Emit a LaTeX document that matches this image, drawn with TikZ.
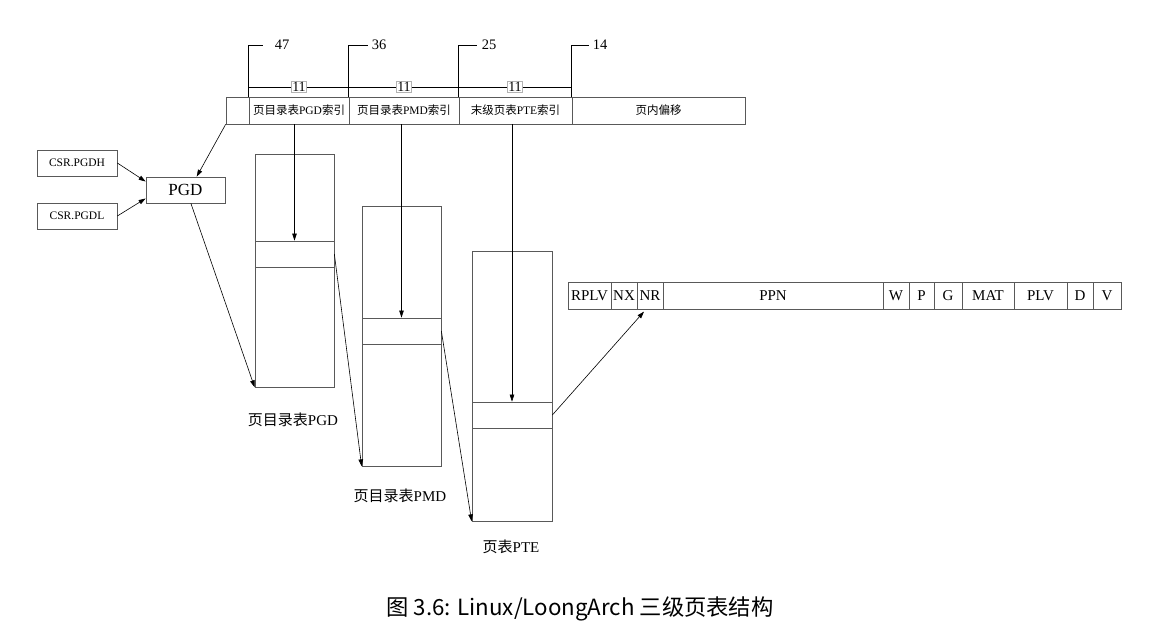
\documentclass[tikz,border=0pt]{standalone}
\usepackage{fontspec}
\setmainfont{Liberation Serif}
\newfontfamily\cjk{Noto Sans CJK SC}
\usetikzlibrary{arrows.meta,calc}
\begin{document}
\begin{tikzpicture}[x=1pt,y=-1pt,
  line/.style={draw=black!65, line width=0.7pt},
  box/.style={line, inner sep=0pt, minimum height=27pt, font=\fontsize{11.5}{12}\selectfont},
  fld/.style={line, inner sep=0pt, minimum height=27pt, font=\fontsize{15}{16}\selectfont},
  tab/.style={line, inner sep=0pt},
  arr/.style={-{Triangle[length=7pt,width=4.5pt]}, line width=0.6pt, black},
  lbl/.style={font=\fontsize{15}{16}\selectfont, inner sep=0pt},
  num/.style={font=\fontsize{14.5}{15}\selectfont, inner sep=0pt},
  wid/.style={draw=black!30, line width=0.5pt, fill=white, inner sep=0.8pt, font=\fontsize{14}{14}\selectfont},
  ]
\useasboundingbox (0,0) rectangle (1159,639);

% ---- virtual address bar
\node[box, minimum width=23pt]  (b0)   at (237.5,110.5) {};
\node[box, minimum width=100pt] (pgdi) at (299,110.5) {{\cjk 页目录表}PGD{\cjk 索引}};
\node[box, minimum width=110pt] (pmdi) at (404,110.5) {{\cjk 页目录表}PMD{\cjk 索引}};
\node[box, minimum width=113pt] (ptei) at (515.5,110.5) {{\cjk 末级页表}PTE{\cjk 索引}};
\node[box, minimum width=173pt] (off)  at (658.5,110.5) {{\cjk 页内偏移}};

% ---- bit positions
\coordinate (t47) at (263,45);
\coordinate (t36) at (368,45);
\coordinate (t25) at (477,45);
\coordinate (t14) at (589,45);
\draw[line, black] (pgdi.north west) |- (t47);
\draw[line, black] (pmdi.north west) |- (t36);
\draw[line, black] (ptei.north west) |- (t25);
\draw[line, black] (off.north west)  |- (t14);
\node[num] (n47) at (282,45) {47};
\node[num] (n36) at (379,45) {36};
\node[num] (n25) at (489,45) {25};
\node[num] (n14) at (600,45) {14};

% ---- widths
\coordinate (h1) at (249,87);
\coordinate (h2) at (572,87);
\draw[line, black] (h1) -- (h2);
\node[wid] (w1) at (299,87) {11};
\node[wid] (w2) at (404,87) {11};
\node[wid] (w3) at (515,87) {11};

% ---- CSR and PGD
\node[box, minimum width=80pt, minimum height=26pt] (csrh) at (77,163) {CSR.PGDH};
\node[box, minimum width=80pt, minimum height=26pt] (csrl) at (77,216) {CSR.PGDL};
\node[box, minimum width=79pt, minimum height=26pt, font=\fontsize{17}{18}\selectfont] (pgd) at (185.5,190) {PGD};

% ---- tables
\node[tab, minimum width=79pt, minimum height=233pt] (pgdt) at (294.5,270.5) {};
\node[tab, minimum width=79pt, minimum height=26pt]  (pgde) at (294.5,254) {};
\node[tab, minimum width=79pt, minimum height=260pt] (pmdt) at (401.5,336) {};
\node[tab, minimum width=79pt, minimum height=26pt]  (pmde) at (401.5,331) {};
\node[tab, minimum width=80pt, minimum height=270pt] (ptet) at (512,386) {};
\node[tab, minimum width=80pt, minimum height=26pt]  (ptee) at (512,415) {};

\node[lbl] (lpgd) at (293,420) {{\cjk 页目录表}PGD};
\node[lbl] (lpmd) at (400,496) {{\cjk 页目录表}PMD};
\node[lbl] (lpte) at (511,547) {{\cjk 页表}PTE};

% ---- PTE entry format
\node[fld, minimum width=43pt]  (rplv) at (589.5,295.5) {RPLV};
\node[fld, minimum width=26pt]  (nx)   at (624,295.5)   {NX};
\node[fld, minimum width=26pt]  (nr)   at (650,295.5)   {NR};
\node[fld, minimum width=220pt] (ppn)  at (773,295.5)   {PPN};
\node[fld, minimum width=26pt]  (fw)   at (896,295.5)   {W};
\node[fld, minimum width=25pt]  (fp)   at (921.5,295.5) {P};
\node[fld, minimum width=28pt]  (fg)   at (948,295.5)   {G};
\node[fld, minimum width=52pt]  (mat)  at (988,295.5)   {MAT};
\node[fld, minimum width=53pt]  (plv)  at (1040.5,295.5){PLV};
\node[fld, minimum width=26pt]  (fd)   at (1080,295.5)  {D};
\node[fld, minimum width=28pt]  (fv)   at (1107,295.5)  {V};

% ---- connectors
\draw[arr] (b0.south west) -- (pgd.50);
\draw[arr] (csrh.east) -- (pgd.168);
\draw[arr] (csrl.east) -- (pgd.192);
\draw[arr] (pgd.-68) -- (pgdt.south west);
\draw[arr] (pgdi.south -| pgde.north) -- (pgde.north);
\draw[arr] (pmdi.south -| pmde.north) -- (pmde.north);
\draw[arr] (ptei.south -| ptee.north) -- (ptee.north);
\draw[arr] (pgde.east) -- (pmdt.south west);
\draw[arr] (pmde.east) -- (ptet.south west);
\draw[arr, shorten >=3pt] (ptee.east) -- ($(nr.south)+(-4,0)$);

% ---- caption
\node[font=\cjk\fontsize{22.3}{24}\selectfont, inner sep=0pt] (cap) at (580,609) {图 3.6: Linux/LoongArch 三级页表结构};
\end{tikzpicture}
\end{document}
